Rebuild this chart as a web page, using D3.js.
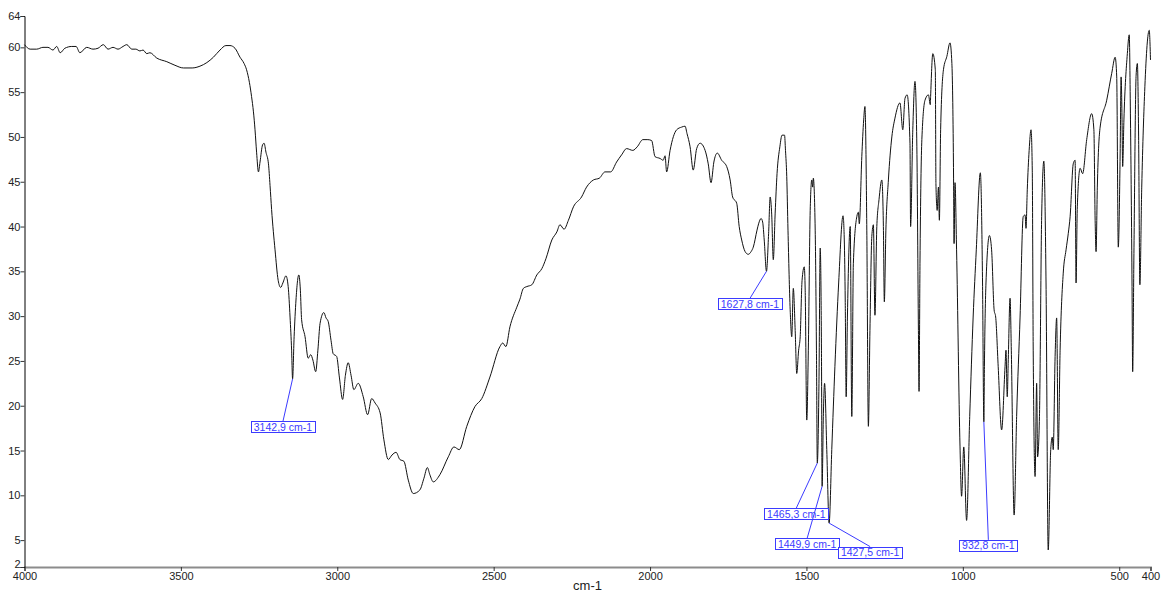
<!DOCTYPE html>
<html>
<head>
<meta charset="utf-8">
<script src="https://cdn.jsdelivr.net/npm/d3@7/dist/d3.min.js"></script>
<style>
  html, body { margin: 0; padding: 0; background: #fff; }
  svg { display: block; }
  text { font-family: "Liberation Sans", Arial, sans-serif; }
</style>
</head>
<body>
<svg id="chart" width="1161" height="594"></svg>
<script>
// ---- DATA ----
const wavenumber = [
 4000,3982,3961,3941,3925,3909,3897,3886,3871,3849,3835,3823,3801,3781,3765,3748,3733,3717,3701,3685,
 3673,3657,3644,3631,3621,3609,3599,3577,3545,3519,3492,3464,3439,3417,3396,3375,3356,3343,3327,3311,
 3298,3290,3281,3274,3268,3263,3258,3252,3247,3239,3234,3228,3220,3215,3210,3199,3189,3181,3174,3164,
 3157,3151,3146,3142.9,3138,3132,3123,3118,3114,3103,3093,3085,3078,3069,3062,3055,3043,3036,3029,3020,
 3013,3002,2993,2983,2974,2965,2956,2947,2933,2917,2903,2890,2879,2863,2851,2837,2825,2812,2800,2787,
 2773,2757,2736,2723,2712,2704,2693,2672,2645,2627,2610,2586,2560,2538,2512,2480,2471,2461,2448,2426,
 2416,2405,2394,2378,2362,2346,2333,2314,2298,2288,2275,2261,2245,2219,2203,2181,2162,2144,2126,2107,
 2091,2075,2055,2041,2023,2007,1995,1984,1968,1958,1952,1947,1936,1915,1899,1888,1882,1872,1862,1851,
 1840,1824,1814,1805,1796,1785,1771,1755,1744,1736,1723,1715,1707,1696,1686,1677,1670,1658,1653,1645,
 1640,1635,1627.8,1621,1616,1611,1606,1600,1594,1585,1578,1570,1567,1563,1559,1552,1547,1542,1536,1531,
 1525,1520,1514,1507,1504,1499,1494,1488,1483,1480,1478,1472,1468,1465.3,1460,1456,1452,1449.9,1446,1442,
 1435,1427.5,1419,1409,1397,1383,1379,1376,1373,1369,1360,1355,1350,1339,1334,1331,1323,1317,1313,1307,
 1302,1297,1291,1286,1281,1275,1268,1259,1254,1251,1246,1238,1227,1217,1201,1192,1185,1178,1169,1167,
 1160,1153,1147,1142,1140,1137,1131,1121,1110,1104,1103,1096,1088,1086,1082,1078,1075,1071,1062,1051,
 1041,1035,1030,1028,1025,1020,1009,1004,997,988,978,967,957,944,937,932.8,931,926,915,908,
 900,895,887,876,865,862,858,855,849,845,836,828,817,807,801,798,794,788,782,778,
 775,769,764,761,755,748,741,734,727,719,714,711,705,700,695,689,679,670,663,657,
 647,641,638,634,625,617,604,588,581,577,574,570,561,540,524,513,508,503,497,494,
 491,489,485,474,468,464,459,457,453,446,442,438,434,428,418,404,400
];
const transmittance = [
 60.3,59.8,59.8,60.0,60.0,59.7,60.1,59.4,59.9,60.1,60.1,59.4,60.0,59.8,59.9,60.3,59.8,60.0,59.8,60.1,
 60.3,59.8,59.8,59.6,59.7,59.3,59.4,58.8,58.4,58.0,57.7,57.7,57.9,58.3,58.9,59.7,60.2,60.2,59.9,58.9,
 58.2,57.5,56.1,54.5,52.8,50.8,48.3,46.1,47.2,49.1,49.3,48.3,47.0,44.6,41.9,37.4,34.0,33.2,33.7,34.5,
 33.3,29.9,26.2,23.0,27.7,31.8,34.6,32.9,29.6,27.7,25.3,25.7,25.1,23.8,26.2,29.2,30.4,29.8,29.4,27.3,
 25.8,25.5,23.1,20.7,23.4,24.8,23.4,21.8,22.5,21.0,19.0,20.8,20.3,19.2,16.2,14.0,14.5,14.8,14.0,13.8,
 11.7,10.2,10.6,11.9,13.1,12.3,11.5,12.3,14.3,15.4,15.1,17.7,19.9,20.8,23.2,26.6,27.0,26.6,28.8,31.0,
 31.9,33.1,33.3,33.5,34.6,35.3,36.4,38.5,39.4,40.2,39.7,40.7,42.2,43.3,44.4,45.2,45.4,46.1,46.1,47.2,
 48.0,48.7,48.5,48.9,49.7,49.7,49.6,47.8,47.6,47.4,47.9,46.1,48.5,50.8,51.1,51.2,50.4,48.9,46.3,48.7,
 49.3,48.5,47.0,44.9,47.2,48.2,47.4,46.7,45.2,43.3,42.6,40.0,38.5,37.2,36.9,37.2,37.7,39.6,40.3,40.9,
 40.5,38.5,35.0,39.2,43.3,41.3,36.3,41.5,45.9,48.9,50.2,50.2,48.5,45.6,39.6,30.7,27.7,33.1,28.4,23.6,
 26.2,27.7,34.0,35.5,32.9,18.4,26.2,41.8,45.2,44.4,45.4,39.6,26.2,13.6,22.5,37.6,26.2,11.0,18.8,22.5,
 15.1,6.9,15.1,24.4,33.7,41.2,38.5,31.8,21.0,29.9,40.0,18.8,35.9,41.1,41.6,40.3,47.8,51.9,53.4,39.6,
 17.7,28.4,38.9,40.2,30.1,40.0,43.0,45.2,40.0,31.6,39.6,45.2,50.0,52.1,53.8,50.8,54.3,54.7,49.3,40.0,
 50.8,56.2,48.9,28.4,21.6,35.9,49.7,54.1,54.7,53.6,54.5,59.3,57.5,44.8,41.8,44.4,40.7,50.8,57.5,59.0,
 60.5,58.2,47.1,38.1,44.9,37.4,15.4,9.9,15.4,7.2,18.8,29.9,37.4,46.0,33.7,18.2,24.4,33.7,39.0,37.4,
 30.7,29.9,24.4,17.3,24.4,26.2,21.0,24.7,32.0,26.2,7.8,18.8,29.9,41.1,41.3,39.8,44.1,48.5,50.8,46.3,
 26.2,12.1,22.5,14.3,18.8,41.1,47.3,33.7,3.9,15.1,16.5,15.1,25.5,29.8,15.1,26.2,34.8,37.4,39.2,41.1,
 47.0,47.4,33.7,42.2,46.5,45.9,49.7,52.6,50.8,40.7,37.2,44.4,51.1,54.1,57.1,58.9,56.7,37.7,48.2,56.7,
 51.9,46.7,51.9,59.3,61.4,51.9,33.3,23.8,37.0,56.9,58.2,50.0,33.5,44.4,55.6,61.9,58.6
];

const xDomain = [4000, 400];
const yDomain = [2.0, 63.5];
const xTicks = [4000, 3500, 3000, 2500, 2000, 1500, 1000, 500, 400];
const yTicks = [5, 10, 15, 20, 25, 30, 35, 40, 45, 50, 55, 60];
const xAxisTitle = "cm-1";

const peakWn = [3142.9, 1627.8, 1465.3, 1449.9, 1427.5, 932.8];
const peakT  = [23.0, 35.0, 13.6, 11.0, 6.9, 18.2];
const peakLabels = ["3142,9 cm-1", "1627,8 cm-1", "1465,3 cm-1", "1449,9 cm-1", "1427,5 cm-1", "932,8 cm-1"];

// ---- LAYOUT ----
const mLeft = 24.5, mRight = 1150.5, mTop = 16, mBottom = 567;
// label box top-centre offsets from the peak point (pixels)
const labelOffsets = [[-9.6, 42.4], [-16.5, 27], [-21, 45], [-15, 52], [41, 23.5], [4.5, 118]];

const svg = d3.select("#chart");
const x = d3.scaleLinear().domain(xDomain).range([mLeft, mRight]);
const y = d3.scaleLinear().domain(yDomain).range([mBottom, mTop]);

// X axis
const xAxis = d3.axisBottom(x).tickValues(xTicks).tickSize(4).tickFormat(d3.format("d"));
const gx = svg.append("g").attr("transform", `translate(0,${mBottom})`).call(xAxis);
gx.select(".domain").attr("stroke", "#8c8c8c").attr("stroke-width", 2);
gx.selectAll(".tick line").attr("stroke", "#333");
gx.selectAll(".tick text").attr("fill", "#222").attr("font-size", 11)
  .attr("font-family", "Liberation Sans, Arial, sans-serif").attr("dy", "0.5em");

// Y axis
const yAll = [yDomain[0]].concat(yTicks, [yDomain[1]]);
const yAxis = d3.axisLeft(y).tickValues(yAll).tickSize(4).tickFormat(d => String(Math.round(d)));
const gy = svg.append("g").attr("transform", `translate(${mLeft},0)`).call(yAxis);
gy.select(".domain").attr("stroke", "#000").attr("stroke-width", 1);
gy.selectAll(".tick line").attr("stroke", "#333");
gy.selectAll(".tick text").attr("fill", "#222").attr("font-size", 11)
  .attr("font-family", "Liberation Sans, Arial, sans-serif").attr("x", -4);
// bottom "2" label sits slightly above its tick, as in the source
gy.selectAll(".tick text").filter(d => d === yDomain[0]).attr("dy", "0.05em");

// axis title
svg.append("text").attr("x", (mLeft + mRight) / 2).attr("y", 590)
  .attr("text-anchor", "middle").attr("font-size", 13).attr("fill", "#222").text(xAxisTitle);

// spectrum
const pts = wavenumber.map((w, i) => [w, transmittance[i]]);
const line = d3.line().x(d => x(d[0])).y(d => y(d[1])).curve(d3.curveMonotoneX);
svg.append("path").datum(pts).attr("d", line)
  .attr("fill", "none").attr("stroke", "#111").attr("stroke-width", 1).attr("stroke-linejoin", "round");

// peak annotations
const blue = "#3b3bff";
peakWn.forEach((w, i) => {
  const px = x(w), py = y(peakT[i]);
  const bx = px + labelOffsets[i][0], by = py + labelOffsets[i][1];
  const g = svg.append("g");
  g.append("line").attr("x1", px).attr("y1", py).attr("x2", bx).attr("y2", by)
    .attr("stroke", blue).attr("stroke-width", 1);
  const r = g.append("rect");
  const t = g.append("text").attr("x", bx).attr("y", by + 9.5).attr("text-anchor", "middle")
    .attr("font-size", 10.5).attr("fill", blue).text(peakLabels[i]);
  const bb = t.node().getBBox();
  r.attr("x", Math.round(bx - bb.width / 2 - 3) + 0.5).attr("y", Math.round(by) + 0.5)
    .attr("width", Math.round(bb.width + 5)).attr("height", 11)
    .attr("fill", "#fff").attr("stroke", blue).attr("stroke-width", 1);
});
</script>
</body>
</html>
